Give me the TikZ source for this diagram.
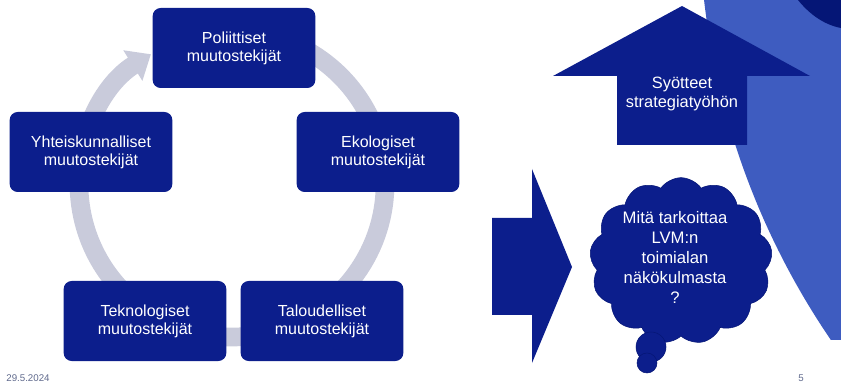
\documentclass[tikz,border=0pt]{standalone}
\usepackage{fontspec}
\setmainfont{Liberation Sans}
\usetikzlibrary{arrows.meta,positioning,shapes.symbols}
\definecolor{navy}{RGB}{12,30,140}
\definecolor{deepnavy}{RGB}{5,22,118}
\definecolor{ringgray}{RGB}{201,203,219}
\definecolor{skyblue}{RGB}{62,92,192}
\definecolor{footgray}{RGB}{95,105,140}
\tikzset{
  factor/.style={fill=navy,text=white,rounded corners=6pt,minimum width=122pt,
    minimum height=60pt,align=center,inner sep=0pt,font=\fontsize{12}{13.5}\selectfont},
  whitetext/.style={text=white,align=center,inner sep=0pt,font=\fontsize{12.3}{14}\selectfont},
  bubble/.style={circle,fill=navy,draw=deepnavy,inner sep=0pt},
  ring/.style={ringgray,line width=14pt},
  foot/.style={text=footgray,inner sep=0pt,font=\fontsize{7.3}{8}\selectfont},
}
\begin{document}
\begin{tikzpicture}[x=0.75pt,y=0.75pt]
  \useasboundingbox (0,0) rectangle (841,385);
  % background
  \begin{scope}
    \clip (0,45) rectangle (841,385);
    \fill[skyblue] (1459,473) circle[radius=760];
  \end{scope}
  \fill[deepnavy] (798,385) .. controls (810,370) and (825,360) .. (841,357) -- (841,385) -- cycle;
  % cycle of factors
  \draw[ring,-{Triangle[width=26pt,length=16pt]}] (232,201) ++(100:153) arc[start angle=100,end angle=-238,radius=153];
  \node[factor] (pol) at (234,337) {Poliittiset\\muutostekijät};
  \node[factor] (eko) at (378,233) {Ekologiset\\muutostekijät};
  \node[factor] (tal) at (322,64) {Taloudelliset\\muutostekijät};
  \node[factor] (tek) at (145,64) {Teknologiset\\muutostekijät};
  \node[factor] (yht) at (91,233) {Yhteiskunnalliset\\muutostekijät};
  % arrows
  \fill[navy] (492,167) -- (532,167) -- (532,216) -- (572,118) -- (532,22) -- (532,70) -- (492,70) -- cycle;
  \fill[navy] (682,379) -- (810,309) -- (747,309) -- (747,240) -- (617,240) -- (617,309) -- (553,309) -- cycle;
  \node[whitetext] (syote) at (682,291) {Syötteet\\strategiatyöhön};
  % thought cloud
  \node[cloud,cloud puffs=13,cloud puff arc=110,cloud ignores aspect,fill=navy,draw=deepnavy,
    minimum width=137pt,minimum height=125pt] (pilvi) at (681,124) {};
  \node[bubble,minimum size=22.5pt] (kupla1) at (651,38) {};
  \node[bubble,minimum size=15pt] (kupla2) at (647,22) {};
  \node[whitetext,font=\fontsize{12.5}{15}\selectfont] (kysymys) at (675,128)
    {Mitä tarkoittaa\\LVM:n\\toimialan\\näkökulmasta\\?};
  % footer
  \node[foot] (datum) at (28,7) {29.5.2024};
  \node[foot] (sivu) at (801,7) {5};
\end{tikzpicture}
\end{document}
